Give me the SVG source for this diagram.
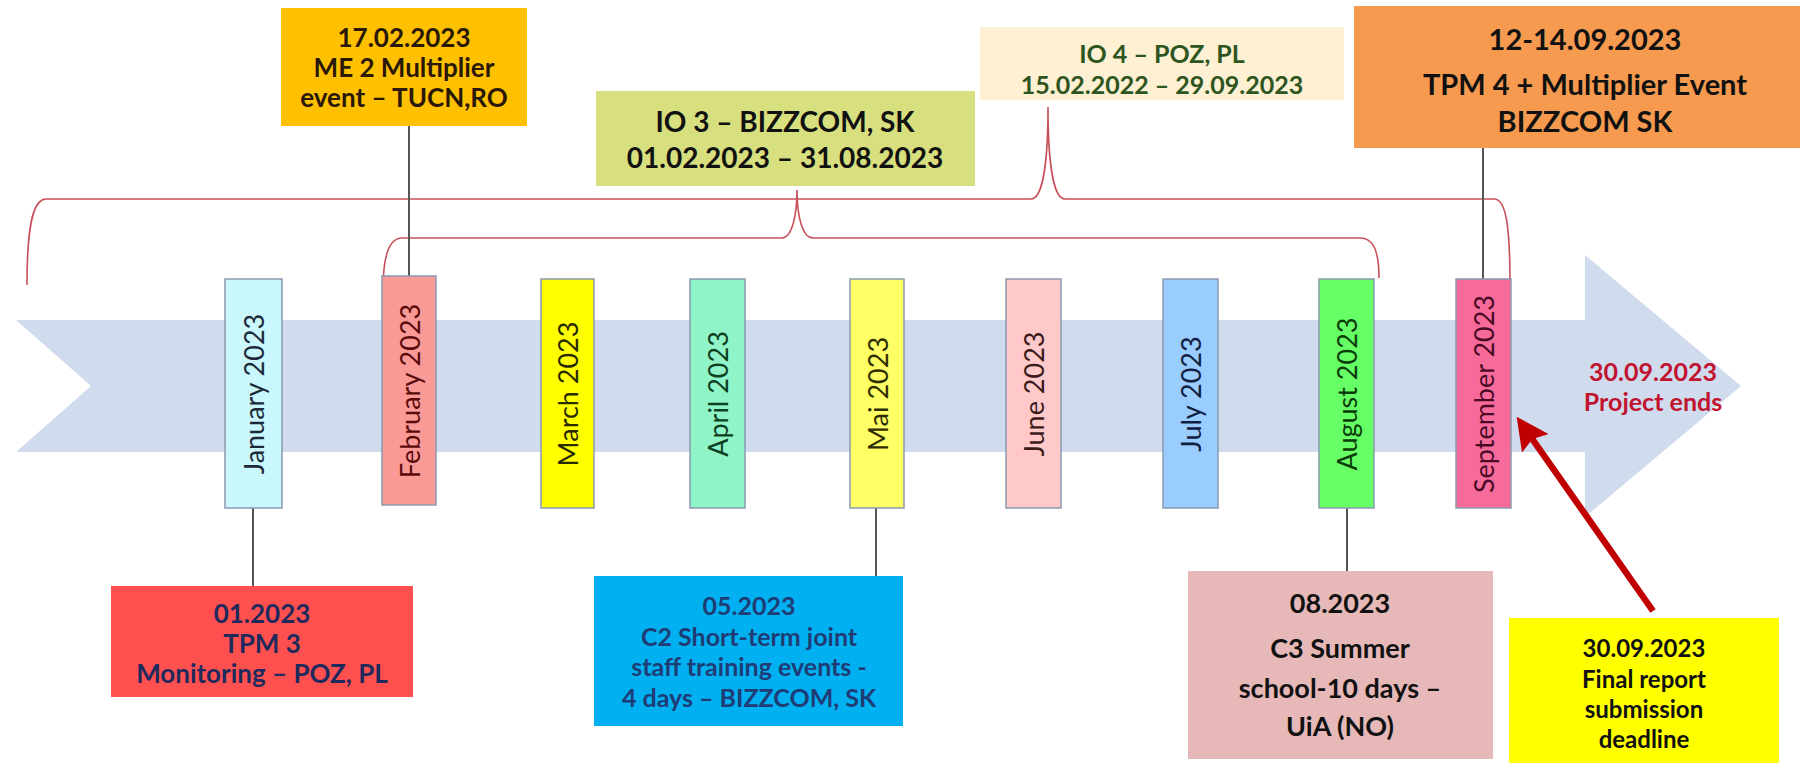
<svg xmlns="http://www.w3.org/2000/svg" width="1806" height="763" viewBox="0 0 1806 763">
<defs>
<style>
.t{font-family:Lato,"Open Sans","Liberation Sans",sans-serif;font-weight:bold;text-anchor:middle}
.m{font-family:Lato,"Open Sans","Liberation Sans",sans-serif;font-size:27px;text-anchor:middle;dominant-baseline:central}
.mb{stroke:#8a9bb0;stroke-width:1.5}
.conn{stroke:#555;stroke-width:2;fill:none}
.br{stroke:#c8505a;stroke-width:1.6;fill:none}
</style>
<marker id="ah" markerWidth="5" markerHeight="5" refX="2.5" refY="2.5" orient="auto" markerUnits="strokeWidth">
<path d="M0,0 L5,2.5 L0,5 L0.8,2.5 Z" fill="#c00000"/>
</marker>
</defs>
<rect width="1806" height="763" fill="#fff"/>
<g id="timeline-arrow">
<polygon points="16,320 1585,320 1585,255 1741,386 1585,517 1585,452 16,452 91,386" fill="#d0dbee"/>
<text class="t" x="1653" y="381" font-size="25" fill="#c0142f">30.09.2023</text>
<text class="t" x="1653" y="411" font-size="25" fill="#c0142f">Project ends</text>
</g>
<g id="brackets">
<path class="br" d="M27,285 C27,230 32,199 46,199 L1031,199 C1043,199 1048,160 1048,107 C1048,160 1053,199 1065,199 L1494,199 C1506,199 1510,225 1510,285"/>
<path class="br" d="M383,290 C383,255 389,238 402,238 L782,238 C792,238 797,215 797,190 C797,215 802,238 813,238 L1360,238 C1373,238 1379,250 1379,278"/>
</g>
<g id="connectors">
<line class="conn" x1="409" y1="126" x2="409" y2="276"/>
<line class="conn" x1="1483" y1="148" x2="1483" y2="279"/>
<line class="conn" x1="253" y1="508" x2="253" y2="586"/>
<line class="conn" x1="876" y1="508" x2="876" y2="576"/>
<line class="conn" x1="1347" y1="508" x2="1347" y2="571"/>
<line x1="1653" y1="611" x2="1526" y2="430" stroke="#c00000" stroke-width="6.5" marker-end="url(#ah)"/>
</g>
<g id="jan"><rect class="mb" x="225" y="279" width="57" height="229" fill="#c9f7fb"/><text class="m" transform="translate(253.5,394) rotate(-90)" fill="#1c2a3a">January 2023</text></g>
<g id="feb"><rect class="mb" x="382" y="276" width="54" height="229" fill="#f99a96"/><text class="m" transform="translate(409,391) rotate(-90)" fill="#5a0a0a">February 2023</text></g>
<g id="mar"><rect class="mb" x="541" y="279" width="53" height="229" fill="#ffff00"/><text class="m" transform="translate(567.5,394) rotate(-90)" fill="#2a2a00">March 2023</text></g>
<g id="apr"><rect class="mb" x="690" y="279" width="55" height="229" fill="#8ff5c9"/><text class="m" transform="translate(717.5,394) rotate(-90)" fill="#0d4020">April 2023</text></g>
<g id="mai"><rect class="mb" x="850" y="279" width="54" height="229" fill="#ffff66"/><text class="m" transform="translate(877,394) rotate(-90)" fill="#2e2e00">Mai 2023</text></g>
<g id="jun"><rect class="mb" x="1006" y="279" width="55" height="229" fill="#ffc9c9"/><text class="m" transform="translate(1033.5,394) rotate(-90)" fill="#3a1a1a">June 2023</text></g>
<g id="jul"><rect class="mb" x="1163" y="279" width="55" height="229" fill="#99ccff"/><text class="m" transform="translate(1190.5,394) rotate(-90)" fill="#102040">July 2023</text></g>
<g id="aug"><rect class="mb" x="1319" y="279" width="55" height="229" fill="#66ff66"/><text class="m" transform="translate(1346.5,394) rotate(-90)" fill="#0b3d0b">August 2023</text></g>
<g id="sep"><rect class="mb" x="1456" y="279" width="55" height="229" fill="#f76b9b"/><text class="m" transform="translate(1483.5,394) rotate(-90)" fill="#4a0a25">September 2023</text></g>
<g id="me2">
<rect x="281" y="8" width="246" height="118" fill="#ffc000"/>
<text class="t" font-size="26" fill="#2a1808"><tspan x="404" y="47">17.02.2023</tspan><tspan x="404" y="77">ME 2 Multiplier</tspan><tspan x="404" y="107">event – TUCN,RO</tspan></text>
</g>
<g id="io3">
<rect x="596" y="91" width="379" height="95" fill="#d8df7e"/>
<text class="t" font-size="28" fill="#111"><tspan x="785" y="132">IO 3 – BIZZCOM, SK</tspan><tspan x="785" y="168">01.02.2023 – 31.08.2023</tspan></text>
</g>
<g id="io4">
<rect x="980" y="27" width="364" height="73" fill="#fdf0d3"/>
<text class="t" font-size="25" fill="#2e5520"><tspan x="1162" y="63">IO 4 – POZ, PL</tspan><tspan x="1162" y="94">15.02.2022 – 29.09.2023</tspan></text>
</g>
<g id="tpm4">
<rect x="1354" y="6" width="446" height="142" fill="#f69a50"/>
<text class="t" font-size="29" fill="#111"><tspan x="1585" y="50">12-14.09.2023</tspan><tspan x="1585" y="95">TPM 4 + Multiplier Event</tspan><tspan x="1585" y="132">BIZZCOM SK</tspan></text>
</g>
<g id="tpm3">
<rect x="111" y="586" width="302" height="111" fill="#ff5050"/>
<text class="t" font-size="26" fill="#1f2a5c"><tspan x="262" y="623">01.2023</tspan><tspan x="262" y="653">TPM 3</tspan><tspan x="262" y="683">Monitoring – POZ, PL</tspan></text>
</g>
<g id="c2">
<rect x="594" y="576" width="309" height="150" fill="#00b0f0"/>
<text class="t" font-size="25" fill="#1f3c75"><tspan x="749" y="615">05.2023</tspan><tspan x="749" y="646">C2 Short-term joint</tspan><tspan x="749" y="676">staff training events -</tspan><tspan x="749" y="707">4 days – BIZZCOM, SK</tspan></text>
</g>
<g id="c3">
<rect x="1188" y="571" width="305" height="188" fill="#e6b9b8"/>
<text class="t" font-size="27" fill="#111"><tspan x="1340" y="613">08.2023</tspan><tspan x="1340" y="658">C3 Summer</tspan><tspan x="1340" y="698">school-10 days –</tspan><tspan x="1340" y="736">UiA (NO)</tspan></text>
</g>
<g id="final">
<rect x="1509" y="618" width="270" height="145" fill="#ffff00"/>
<text class="t" font-size="24" fill="#111"><tspan x="1644" y="657">30.09.2023</tspan><tspan x="1644" y="688">Final report</tspan><tspan x="1644" y="718">submission</tspan><tspan x="1644" y="748">deadline</tspan></text>
</g>
</svg>
